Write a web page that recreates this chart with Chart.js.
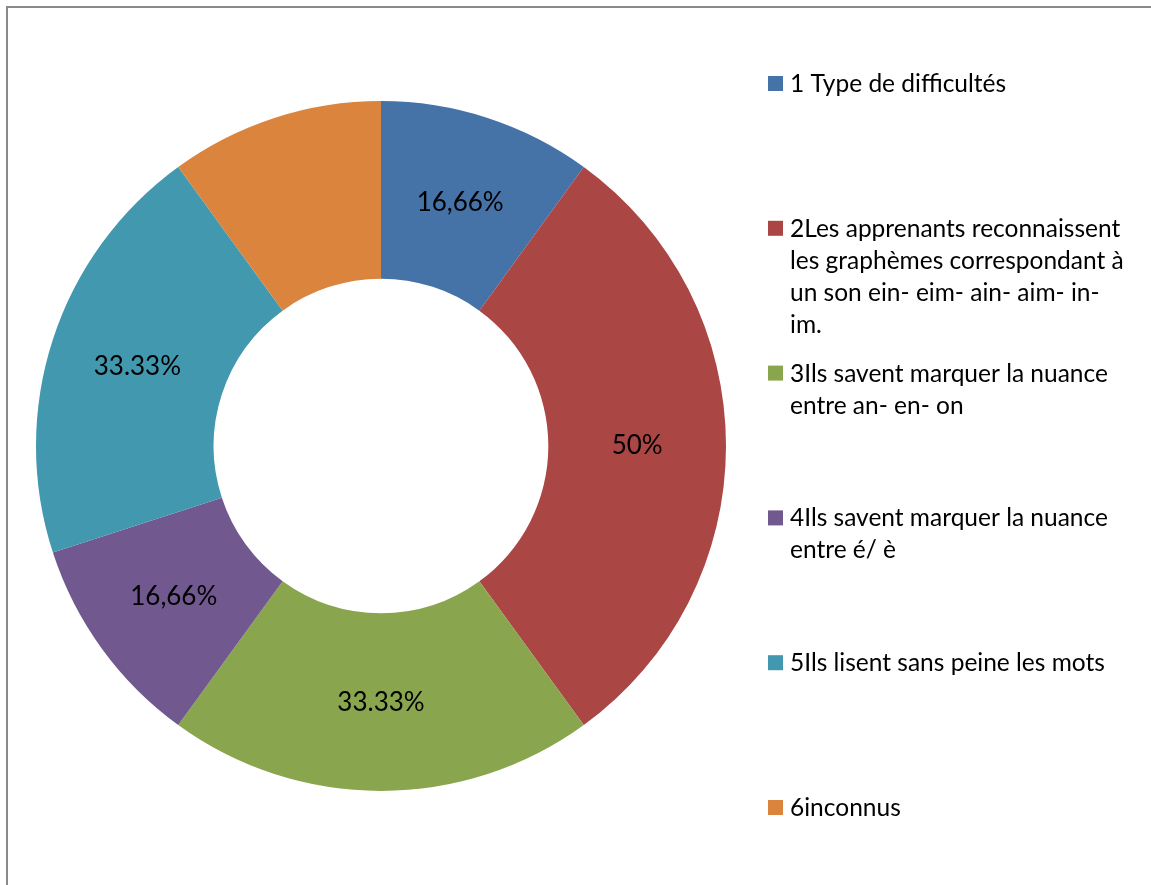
<!DOCTYPE html>
<html>
<head>
<meta charset="utf-8">
<script src="https://cdn.jsdelivr.net/npm/chart.js@4.4.0/dist/chart.umd.min.js"></script>
<style>
  html, body { margin: 0; padding: 0; background: #fff; overflow: hidden; }
  #frame { position: absolute; left: 6px; top: 6px; width: 1200px; height: 950px; border: 2px solid #8a8a8a; }
  #wrap { position: absolute; left: 0; top: 0; width: 1151px; height: 885px; }
</style>
</head>
<body>
<div id="frame"></div>
<div id="wrap"><canvas id="chart" width="1151" height="885"></canvas></div>
<script>
// data
const categories = [
    '1 Type de difficultés',
    '2Les apprenants reconnaissent les graphèmes correspondant à un son ein- eim- ain- aim- in- im.',
    '3Ils savent marquer la nuance entre an- en- on',
    '4Ils savent marquer la nuance entre é/ è',
    '5Ils lisent sans peine les mots',
    '6inconnus'
];
const legendLines = [
    ['1 Type de difficultés'],
    ['2Les apprenants reconnaissent', 'les graphèmes correspondant à', 'un son ein- eim- ain- aim- in-', 'im.'],
    ['3Ils savent marquer la nuance', 'entre an- en- on'],
    ['4Ils savent marquer la nuance', 'entre é/ è'],
    ['5Ils lisent sans peine les mots'],
    ['6inconnus']
];
const values = [10, 30, 20, 10, 20, 10];
const valueLabels = ['16,66%', '50%', '33.33%', '16,66%', '33.33%', ''];
const colors = ['#4572A7', '#AA4643', '#89A54E', '#71588F', '#4198AF', '#DB843D'];

const LEGEND_FONT = '24.5px Lato, "Open Sans", sans-serif';
const LABEL_FONT = '26px Lato, "Open Sans", sans-serif';

const sliceLabels = {
    id: 'sliceLabels',
    afterDatasetsDraw(chart) {
        const ctx = chart.ctx;
        const meta = chart.getDatasetMeta(0);
        ctx.save();
        ctx.font = LABEL_FONT;
        ctx.fillStyle = '#000';
        ctx.textAlign = 'center';
        ctx.textBaseline = 'middle';
        meta.data.forEach((arc, i) => {
            if (!valueLabels[i]) return;
            const p = arc.getCenterPoint();
            ctx.fillText(valueLabels[i], p.x, p.y);
        });
        ctx.restore();
    }
};

const sideLegend = {
    id: 'sideLegend',
    afterDraw(chart) {
        const ctx = chart.ctx;
        const boxX = 768, textX = 790, box = 15;
        const firstBase = 92, step = 144.8, lineH = 32;
        ctx.save();
        ctx.font = LEGEND_FONT;
        ctx.textAlign = 'left';
        ctx.textBaseline = 'alphabetic';
        legendLines.forEach((lines, i) => {
            const base = firstBase + i * step;
            ctx.fillStyle = colors[i];
            ctx.fillRect(boxX, base - 16, box, box);
            ctx.fillStyle = '#000';
            lines.forEach((line, j) => ctx.fillText(line, textX, base + j * lineH));
        });
        ctx.restore();
    }
};

new Chart(document.getElementById('chart'), {
    type: 'doughnut',
    data: {
        labels: categories,
        datasets: [{
            data: values,
            backgroundColor: colors,
            borderWidth: 0
        }]
    },
    options: {
        responsive: false,
        animation: false,
        cutout: '48.5%',
        layout: { padding: { left: 36, top: 101, right: 425, bottom: 94 } },
        plugins: {
            legend: { display: false },
            tooltip: { enabled: false }
        }
    },
    plugins: [sliceLabels, sideLegend]
});
</script>
</body>
</html>
